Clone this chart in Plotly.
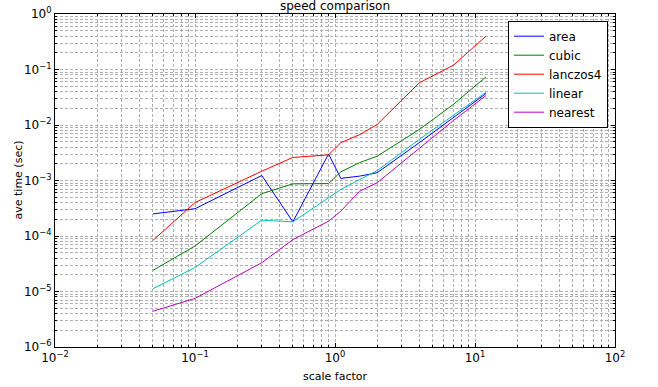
import plotly.graph_objects as go

scale = [0.05, 0.1, 0.3, 0.5, 0.9, 1.1, 1.5, 2, 4, 7, 12]
area = [2.5e-4, 3.1e-4, 1.23e-3, 1.8e-4, 3.0e-3, 1.09e-3, 1.2e-3, 1.38e-3, 4.8e-3, 1.38e-2, 3.7e-2]
cubic = [2.4e-5, 6.6e-5, 5.8e-4, 8.7e-4, 8.8e-4, 1.43e-3, 2.1e-3, 2.74e-3, 8.3e-3, 2.34e-2, 7.4e-2]
lanczos4 = [8.3e-5, 4.0e-4, 1.47e-3, 2.6e-3, 2.9e-3, 4.8e-3, 6.7e-3, 1.02e-2, 5.76e-2, 1.19e-1, 4.0e-1]
linear = [1.12e-5, 2.7e-5, 1.93e-4, 1.8e-4, 4.9e-4, 6.9e-4, 1.04e-3, 1.5e-3, 5.5e-3, 1.5e-2, 3.9e-2]
nearest = [4.4e-6, 7.5e-6, 3.3e-5, 8.6e-5, 1.85e-4, 2.8e-4, 6.4e-4, 9.1e-4, 3.8e-3, 1.2e-2, 3.4e-2]

x_exponents = [-2, -1, 0, 1, 2]
y_exponents = [-6, -5, -4, -3, -2, -1, 0]

series = [
    ("area", area, "#0000ff"),
    ("cubic", cubic, "#008000"),
    ("lanczos4", lanczos4, "#ff0000"),
    ("linear", linear, "#00bfbf"),
    ("nearest", nearest, "#bf00bf"),
]

fig = go.Figure()
for name, vals, col in series:
    fig.add_trace(go.Scatter(x=scale, y=vals, name=name, mode="lines",
                             line=dict(color=col, width=1)))

FONT = "DejaVu Sans"
W, H = 658, 387
L, R, T, B = 55, 43, 14, 40


def power_labels(exps):
    return [10.0 ** e for e in exps], ["10<sup>%s</sup>" % ("\u2212%d" % -e if e < 0 else "%d" % e) for e in exps]


axis_common = dict(
    type="log", showline=True, linecolor="black", linewidth=1, mirror="allticks",
    ticks="inside", ticklen=4, tickcolor="black", automargin=False,
    showgrid=True, gridcolor="#b0b0b0", griddash="3px,2px",
    gridwidth=1, zeroline=False,
    tickfont=dict(family=FONT, size=12, color="black"),
    minor=dict(ticks="inside", ticklen=2, tickcolor="black", dtick="D1",
               showgrid=True, gridcolor="#b0b0b0", griddash="3px,2px", gridwidth=1),
)

xv, xt = power_labels(x_exponents)
yv, yt = power_labels(y_exponents)
fig.update_xaxes(range=[-2, 2], tickmode="array", tickvals=xv, ticktext=xt, **axis_common)
fig.update_yaxes(range=[-6, 0], tickmode="array", tickvals=yv, ticktext=yt, **axis_common)

fig.update_layout(
    width=W, height=H,
    margin=dict(l=L, r=R, t=T, b=B, autoexpand=False),
    paper_bgcolor="white", plot_bgcolor="white",
    font=dict(family=FONT, size=12, color="black"),
    title=dict(text="speed comparison", x=0.5, xref="paper", xanchor="center",
               y=1 - 5.5 / H, yref="container", yanchor="middle",
               font=dict(family=FONT, size=12, color="black")),
    legend=dict(x=(508 - L) / (W - L - R), y=(H - B - 20.7) / (H - T - B),
                xanchor="left", yanchor="top", bgcolor="white",
                bordercolor="black", borderwidth=1,
                font=dict(family=FONT, size=12, color="black")),
    showlegend=True,
    annotations=[
        dict(text="scale factor", xref="paper", yref="paper", x=0.5, y=0,
             yshift=-(376 - (H - B)), xanchor="center", yanchor="middle",
             showarrow=False, font=dict(family=FONT, size=11, color="black")),
        dict(text="ave time (sec)", xref="paper", yref="paper", x=0, y=0.5,
             xshift=-(L - 18), xanchor="center", yanchor="middle", textangle=-90,
             showarrow=False, font=dict(family=FONT, size=11, color="black")),
    ],
)

fig.write_html("out.html", config={"displayModeBar": False},
               post_script="document.body.style.margin='0';document.body.style.overflow='hidden';")
